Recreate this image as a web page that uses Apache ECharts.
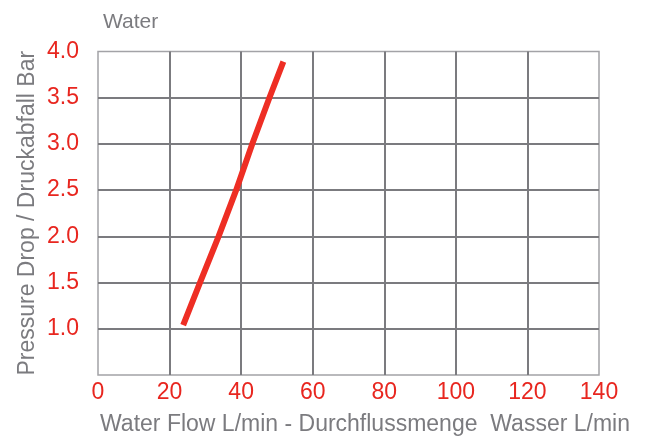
<!DOCTYPE html>
<html>
<head>
<meta charset="utf-8">
<title>Water – Pressure Drop</title>
<script src="https://cdn.jsdelivr.net/npm/echarts@6/dist/echarts.min.js"></script>
<style>
  html, body { margin: 0; padding: 0; background: #fff; }
  #chart { width: 649px; height: 445px; }
</style>
</head>
<body>
<div id="chart"></div>
<script>
// Flow rate (L/min)
const flowValues = [23.8, 28.5, 33.7, 38.6, 43.1, 47.9, 51.8];
// Pressure drop (bar) at each flow value
const pressureValues = [1.04, 1.5, 2.0, 2.5, 3.0, 3.5, 3.89];

const xTicks = [0, 20, 40, 60, 80, 100, 120, 140];
const yTicks = [0.5, 1.0, 1.5, 2.0, 2.5, 3.0, 3.5, 4.0];

const RED  = '#e8261f';
const GREY = '#7b7b7f';
const FONT = "'Liberation Sans', Arial, sans-serif";

const chart = echarts.init(document.getElementById('chart'));

chart.setOption({
  backgroundColor: '#ffffff',
  animation: false,
  title: {
    text: 'Water',
    left: 98,
    top: 7,
    textStyle: { color: GREY, fontSize: 21, fontWeight: 'normal', fontFamily: FONT },
  },
  grid: {
    left: 98, right: 50, top: 51.5, bottom: 70,
    show: true,
    borderColor: '#a3a3a7',
    borderWidth: 1.5,
  },
  xAxis: {
    type: 'value',
    min: xTicks[0],
    max: xTicks[xTicks.length - 1],
    interval: 20,
    name: 'Water Flow L/min - Durchflussmenge  Wasser L/min',
    nameLocation: 'middle',
    nameGap: 38,
    nameMoveOverlap: false,
    nameTextStyle: {
      color: GREY, fontSize: 23, fontFamily: FONT,
      padding: [0, 0, 0, 33],
    },
    axisLine: { show: false },
    axisTick: { show: false },
    axisLabel: { color: RED, fontSize: 23, fontFamily: FONT, margin: 6 },
    splitLine: {
      show: true, showMinLine: false, showMaxLine: false,
      lineStyle: { color: GREY, width: 2 },
    },
  },
  yAxis: {
    type: 'value',
    min: yTicks[0],
    max: yTicks[yTicks.length - 1],
    interval: 0.5,
    name: 'Pressure Drop / Druckabfall Bar',
    nameLocation: 'middle',
    nameGap: 59,
    nameMoveOverlap: false,
    nameTextStyle: { color: GREY, fontSize: 23, fontFamily: FONT },
    axisLine: { show: false },
    axisTick: { show: false },
    axisLabel: {
      color: RED, fontSize: 23, fontFamily: FONT, margin: 19,
      formatter: (v) => (v === yTicks[0] ? '' : v.toFixed(1)),
    },
    splitLine: {
      show: true, showMinLine: false, showMaxLine: false,
      lineStyle: { color: GREY, width: 2 },
    },
  },
  series: [
    {
      type: 'line',
      data: flowValues.map((x, i) => [x, pressureValues[i]]),
      showSymbol: false,
      symbol: 'none',
      lineStyle: { color: '#ee2e24', width: 6 },
      z: 5,
    },
  ],
});
</script>
</body>
</html>
